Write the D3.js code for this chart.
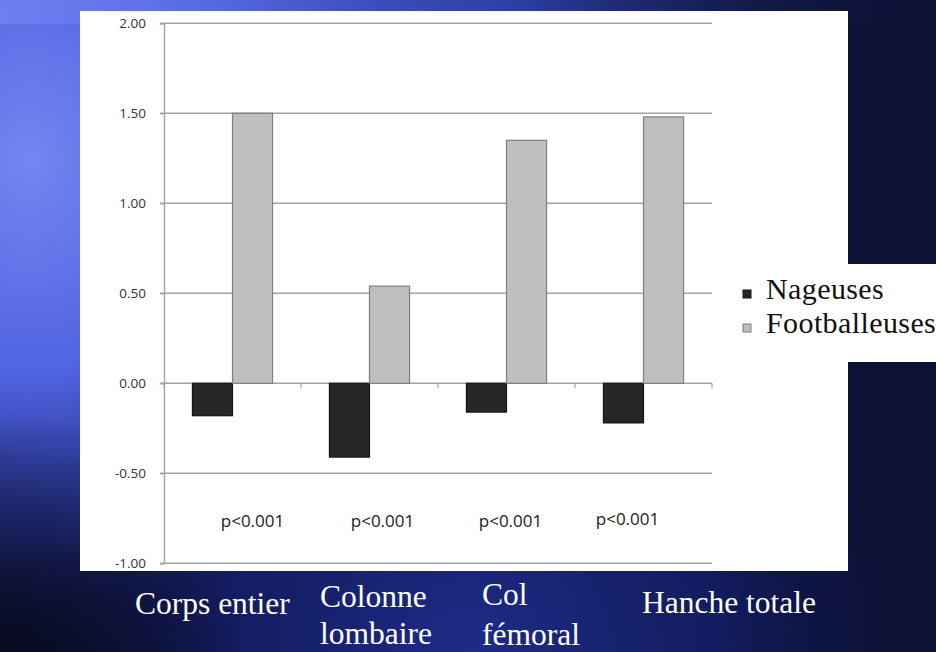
<!DOCTYPE html>
<html>
<head>
<meta charset="utf-8">
<script src="https://cdn.jsdelivr.net/npm/d3@7/dist/d3.min.js"></script>
<style>
  html, body { margin: 0; padding: 0; background: #0c1236; }
  svg { display: block; }
</style>
</head>
<body>
<svg id="slide" width="936" height="652"></svg>
<script>
// Z-scores of bone mineral density by site
const categories = ["Corps entier", "Colonne lombaire", "Col fémoral", "Hanche totale"];
const categoryLines = [["Corps entier"], ["Colonne", "lombaire"], ["Col", "fémoral"], ["Hanche totale"]];
const seriesNames = ["Nageuses", "Footballeuses"];
const nageuses = [-0.18, -0.41, -0.16, -0.22];
const footballeuses = [1.50, 0.54, 1.35, 1.48];
const pValues = ["p<0.001", "p<0.001", "p<0.001", "p<0.001"];
const yTicks = [-1.0, -0.5, 0.0, 0.5, 1.0, 1.5, 2.0];

const W = 936, H = 652;
const svg = d3.select("#slide");
const defs = svg.append("defs");

// ---- slide background ----
const bgA = defs.append("radialGradient").attr("id", "bgA")
  .attr("gradientUnits", "userSpaceOnUse").attr("cx", 30).attr("cy", 160).attr("r", 430)
  .attr("gradientTransform", "translate(30,160) scale(1,1.25) translate(-30,-160)");
bgA.append("stop").attr("offset", "0%").attr("stop-color", "#7486f2").attr("stop-opacity", 1);
bgA.append("stop").attr("offset", "40%").attr("stop-color", "#5468ea").attr("stop-opacity", 0.95);
bgA.append("stop").attr("offset", "70%").attr("stop-color", "#3344c0").attr("stop-opacity", 0.6);
bgA.append("stop").attr("offset", "100%").attr("stop-color", "#141c60").attr("stop-opacity", 0);

const bgB = defs.append("radialGradient").attr("id", "bgB")
  .attr("gradientUnits", "userSpaceOnUse").attr("cx", 470).attr("cy", 660).attr("r", 420);
bgB.append("stop").attr("offset", "0%").attr("stop-color", "#1f2e8e").attr("stop-opacity", 0.95);
bgB.append("stop").attr("offset", "60%").attr("stop-color", "#18237a").attr("stop-opacity", 0.6);
bgB.append("stop").attr("offset", "100%").attr("stop-color", "#101860").attr("stop-opacity", 0);

const bgC = defs.append("linearGradient").attr("id", "bgC")
  .attr("x1", 0).attr("y1", 0).attr("x2", 1).attr("y2", 0);
bgC.append("stop").attr("offset", "0%").attr("stop-color", "#6f82f2").attr("stop-opacity", 0.9);
bgC.append("stop").attr("offset", "55%").attr("stop-color", "#3b52d8").attr("stop-opacity", 0.7);
bgC.append("stop").attr("offset", "100%").attr("stop-color", "#0b1034").attr("stop-opacity", 0);

const bgD = defs.append("radialGradient").attr("id", "bgD")
  .attr("gradientUnits", "userSpaceOnUse").attr("cx", 10).attr("cy", 652).attr("r", 240);
bgD.append("stop").attr("offset", "0%").attr("stop-color", "#07091c").attr("stop-opacity", 0.9);
bgD.append("stop").attr("offset", "100%").attr("stop-color", "#07091c").attr("stop-opacity", 0);

svg.append("rect").attr("width", W).attr("height", H).attr("fill", "#0c1236");
svg.append("rect").attr("width", W).attr("height", H).attr("fill", "url(#bgA)");
svg.append("rect").attr("width", W).attr("height", H).attr("fill", "url(#bgB)");
svg.append("rect").attr("width", W).attr("height", 24).attr("fill", "url(#bgC)");
svg.append("rect").attr("width", W).attr("height", H).attr("fill", "url(#bgD)");

// ---- white chart panel and legend box ----
const panel = { x: 80, y: 11, w: 768, h: 560 };
svg.append("rect").attr("x", panel.x).attr("y", panel.y)
  .attr("width", panel.w).attr("height", panel.h).attr("fill", "#ffffff");
svg.append("rect").attr("x", panel.x + panel.w - 1).attr("y", 264)
  .attr("width", W - (panel.x + panel.w) + 1).attr("height", 98).attr("fill", "#ffffff");

defs.append("clipPath").attr("id", "panelClip").append("rect")
  .attr("x", panel.x).attr("y", panel.y).attr("width", panel.w).attr("height", panel.h);

const plot = svg.append("g").attr("clip-path", "url(#panelClip)");

// ---- scales ----
const y = d3.scaleLinear().domain([-1, 2]).range([563.3, 23.3]);
const x0 = d3.scaleBand().domain(categories).range([164, 712]).padding(0);
const x1 = d3.scaleBand().domain(seriesNames).range([0, x0.bandwidth()])
  .paddingInner(0).paddingOuter(0.71);

const gridColor = "#a3a3a3";
const fmt = v => d3.format(".2f")(v).replace("\u2212", "-");

// horizontal gridlines
plot.append("g").selectAll("line").data(yTicks).join("line")
  .attr("x1", 160).attr("x2", x0.range()[1])
  .attr("y1", d => y(d)).attr("y2", d => y(d))
  .attr("stroke", gridColor).attr("stroke-width", 1.4);

// y axis with labels
const yAxis = d3.axisLeft(y).tickValues(yTicks).tickFormat(fmt)
  .tickSize(4).tickPadding(12);
const yg = plot.append("g").attr("transform", "translate(164,0)").call(yAxis);
yg.select(".domain").attr("stroke", gridColor).attr("stroke-width", 1.4);
yg.selectAll(".tick line").attr("stroke", gridColor).attr("stroke-width", 1.4);
yg.selectAll(".tick text")
  .attr("font-family", "'Open Sans', sans-serif").attr("font-size", 13.5)
  .attr("fill", "#333333").attr("dx", -2);

// category tick marks on the zero line
plot.append("g").selectAll("line")
  .data(categories.map(c => x0(c)).concat([x0.range()[1]])).join("line")
  .attr("x1", d => d).attr("x2", d => d)
  .attr("y1", y(0)).attr("y2", y(0) + 5)
  .attr("stroke", gridColor).attr("stroke-width", 1.2);

// ---- bars ----
const seriesValues = [nageuses, footballeuses];
const fills = ["#262626", "#bfbfbf"];
const strokes = ["#151515", "#7f7f7f"];

const rows = [];
categories.forEach((c, i) => {
  seriesNames.forEach((s, j) => rows.push({ cat: c, series: s, j, v: seriesValues[j][i] }));
});

plot.append("g").selectAll("rect").data(rows).join("rect")
  .attr("x", d => x0(d.cat) + x1(d.series))
  .attr("width", x1.bandwidth())
  .attr("y", d => y(Math.max(0, d.v)))
  .attr("height", d => Math.abs(y(d.v) - y(0)))
  .attr("fill", d => fills[d.j])
  .attr("stroke", d => strokes[d.j])
  .attr("stroke-width", 1.2);

// ---- significance labels ----
const pNudge = [20, 13, 4, -16];
const pLift = [0, 0, 0, -2];
plot.append("g").selectAll("text").data(pValues).join("text")
  .attr("x", (d, i) => x0(categories[i]) + x0.bandwidth() / 2 + pNudge[i])
  .attr("y", (d, i) => 527 + pLift[i])
  .attr("text-anchor", "middle")
  .attr("font-family", "'Open Sans', sans-serif").attr("font-size", 17)
  .attr("fill", "#222222")
  .text(d => d);

// ---- legend ----
const legend = svg.append("g");
seriesNames.forEach((s, j) => {
  const ly = 299 + j * 34;
  legend.append("rect").attr("x", 743).attr("y", ly - 9).attr("width", 8).attr("height", 8)
    .attr("fill", fills[j]).attr("stroke", strokes[j]).attr("stroke-width", 1);
  legend.append("text").attr("x", 766).attr("y", ly)
    .attr("font-family", "'Liberation Serif', 'Times New Roman', serif")
    .attr("font-size", 30).attr("fill", "#111111")
    .attr("letter-spacing", 0.4)
    .text(s);
});

// ---- category labels under the chart ----
const labelLeft = [135, 320, 482, 642];
const labelBase = [[614], [607, 644], [605, 645], [613]];
const catText = svg.append("g")
  .attr("font-family", "'Liberation Serif', 'Times New Roman', serif")
  .attr("font-size", 31.5).attr("fill", "#ffffff");
categoryLines.forEach((lines, i) => {
  lines.forEach((line, k) => {
    catText.append("text").attr("x", labelLeft[i]).attr("y", labelBase[i][k]).text(line);
  });
});
</script>
</body>
</html>
